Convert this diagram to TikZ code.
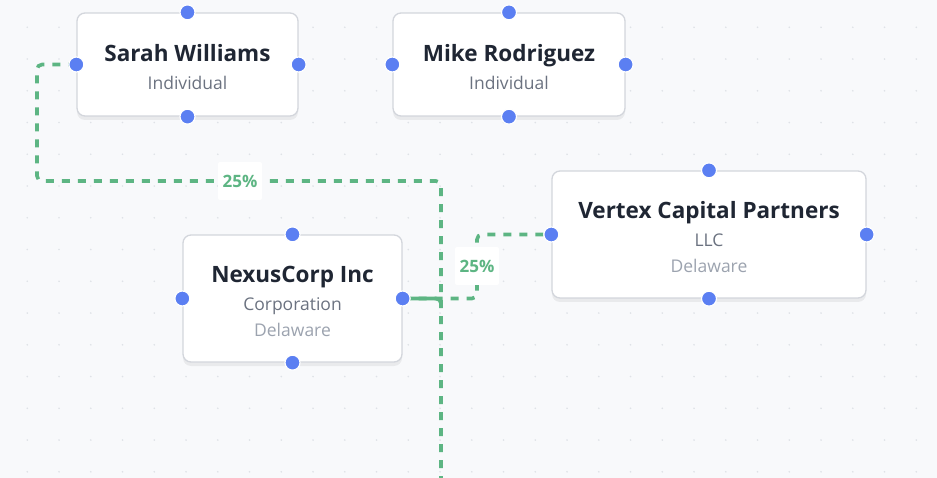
\documentclass[tikz,border=0pt]{standalone}
\usepackage{fontspec}
\setmainfont{Open Sans}
\usetikzlibrary{positioning,shadows}

\definecolor{canvas}{HTML}{F8F9FB}
\definecolor{griddot}{HTML}{DFE2E7}
\definecolor{boxline}{HTML}{D3D6DC}
\definecolor{handle}{HTML}{5B7FF2}
\definecolor{stake}{HTML}{5DB583}
\definecolor{ink}{HTML}{1F2633}
\definecolor{kind}{HTML}{6B7280}
\definecolor{place}{HTML}{9CA3AF}

\newcommand{\ename}[1]{{\fontsize{22.5}{26}\selectfont\bfseries\color{ink}\rule{0pt}{22pt}#1}}
\newcommand{\ekind}[1]{{\color{kind}#1}}
\newcommand{\eplace}[1]{{\color{place}#1}}

\begin{document}
\begin{tikzpicture}[
  x=1pt, y=-1pt,
  ent/.style={rectangle, rounded corners=8pt, draw=boxline, line width=1.3pt, fill=white,
              align=center, inner sep=0pt,
              font=\fontsize{17.5}{26}\selectfont,
              drop shadow={shadow xshift=0pt, shadow yshift=-4pt, opacity=0.06, fill=black}},
  hdl/.style={circle, fill=handle, draw=white, line width=1.2pt, minimum size=15pt, inner sep=0pt},
  own/.style={draw=stake, line width=3.6pt, dash pattern=on 8pt off 8pt, rounded corners=5pt},
  pct/.style={fill=white, rounded corners=2pt, minimum width=44pt, minimum height=38pt,
              inner sep=0pt, text=stake, font=\fontsize{17}{20}\selectfont\bfseries},
]
% canvas and dot grid
\fill[canvas] (0,0) rectangle (937,478);
\useasboundingbox (0,0) rectangle (937,478);
\foreach \i in {0,...,29}
  \foreach \j in {0,...,14}
    \fill[griddot] (27.3+31.75*\i, 27.3+31.75*\j) circle (0.9pt);

% ---- owners (top row) ----
\node[ent, minimum width=221pt, minimum height=103pt] (sw) at (187.5,64.5)
  {\ename{Sarah Williams}\\[2pt]\ekind{Individual}};
\node[ent, minimum width=232pt, minimum height=103pt] (mr) at (509,64.5)
  {\ename{Mike Rodriguez}\\[2pt]\ekind{Individual}};

% ---- companies ----
\node[ent, minimum width=314pt, minimum height=127pt] (vc) at (709,234.5)
  {\ename{Vertex Capital Partners}\\[2pt]\ekind{LLC}\\\eplace{Delaware}};
\node[ent, minimum width=219pt, minimum height=127pt] (nx) at (292.5,298.5)
  {\ename{NexusCorp Inc}\\[2pt]\ekind{Corporation}\\\eplace{Delaware}};

% free ends of the edges leaving the picture
\coordinate (sink) at (441,490);
\coordinate (jn) at (441,306);

% ---- ownership edges ----
\draw[own] (sw.west) -- (37,64.5) -- (37,181) -- (441,181) -- (sink);
\draw[own] (nx.east) -- (477,298.5) -- (477,234.5) -- (vc.west);
\draw[own, solid] (nx.east) -- (441,298.5) -- (jn);

\node[pct] (p1) at (240,181) {25\%};
\node[pct] (p2) at (477,266) {25\%};

% ---- connection handles ----
\foreach \n in {sw,mr,vc,nx}
  \foreach \a in {north,south,east,west}
    \node[hdl] (\n-\a) at (\n.\a) {};
\end{tikzpicture}
\end{document}
